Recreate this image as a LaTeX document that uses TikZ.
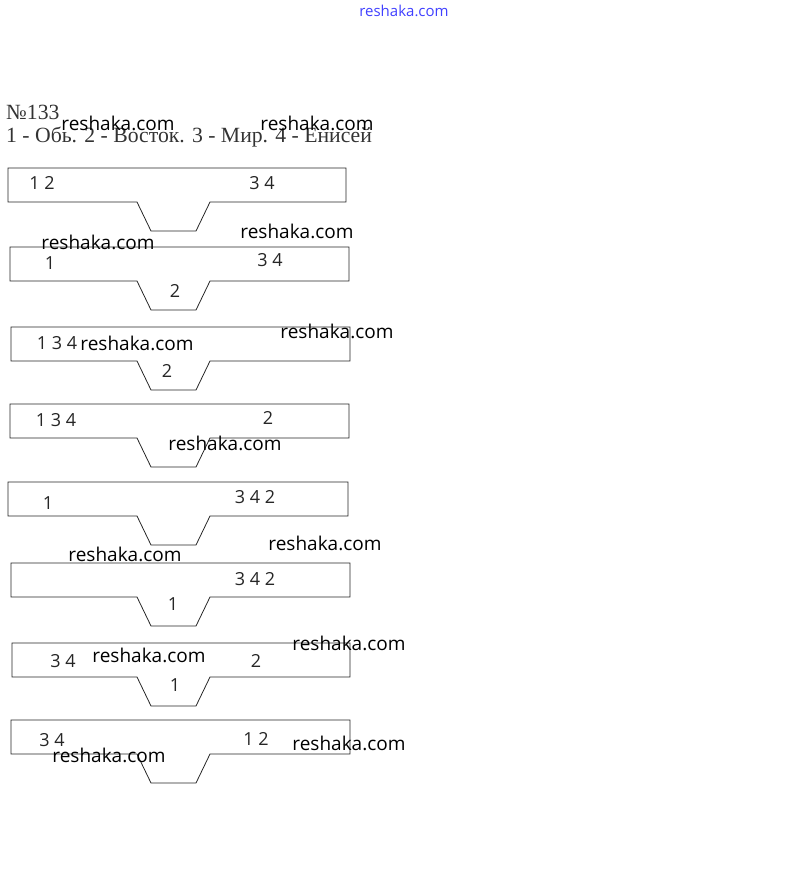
\documentclass[tikz,border=0pt]{standalone}
\usepackage{fontspec}
\setmainfont{Liberation Serif}
\newfontfamily\labelfont{Open Sans}
\tikzset{
  track/.style = {draw=black!85, line width=0.8pt},
  num/.style = {font=\labelfont\fontsize{18}{18}\selectfont, inner sep=0pt, text=black!85},
  wmark/.style = {font=\labelfont\fontsize{19}{19}\selectfont, inner sep=0pt},
  title/.style = {font=\fontsize{21.7}{21.7}\selectfont, inner sep=0pt, anchor=west, text=black!80}
}

\begin{document}
\begin{tikzpicture}[x=1pt,y=-1pt]
  \useasboundingbox (0,0) rectangle (806,895);
  % header
  \node[font=\labelfont\fontsize{15}{15}\selectfont, text=blue!75, inner sep=0pt] (site) at (404,11) {reshaka.com};
  \node[title] (task) at (6,112) {№133};
  \node[title] (legend) at (6,137) {1 - Обь. 2 - Восток. 3 - Мир. 4 - Енисей};
  % tracks with the dead-end notch
  \foreach \n/\xl/\xr/\yt in {1/8/346/168, 2/10/349/247, 3/11/350/327, 4/10/349/404,
                              5/8/348/482, 6/11/350/563, 7/12/350/643, 8/11/350/720}{
    \pgfmathsetmacro{\yb}{\yt+34}
    \pgfmathsetmacro{\yn}{\yt+63}
    \draw[track] (137,\yb) -- (\xl,\yb) -- (\xl,\yt) -- (\xr,\yt) -- (\xr,\yb)
      -- (210,\yb) -- (196,\yn) -- (151,\yn) -- cycle;
  }
  % wagons
  \node[num] (a1) at (42,183) {1 2};
  \node[num] (b1) at (262,183) {3 4};
  \node[num] (a2) at (50,263) {1};
  \node[num] (b2) at (270,260) {3 4};
  \node[num] (c2) at (175,291) {2};
  \node[num] (a3) at (57,343) {1 3 4};
  \node[num] (c3) at (167,371) {2};
  \node[num] (a4) at (56,420) {1 3 4};
  \node[num] (b4) at (268,418) {2};
  \node[num] (a5) at (48,503) {1};
  \node[num] (b5) at (255,497) {3 4 2};
  \node[num] (b6) at (255,579) {3 4 2};
  \node[num] (c6) at (173,604) {1};
  \node[num] (a7) at (63,661) {3 4};
  \node[num] (b7) at (256,661) {2};
  \node[num] (c7) at (175,685) {1};
  \node[num] (a8) at (52,740) {3 4};
  \node[num] (b8) at (256,739) {1 2};
  % watermarks
  \node[wmark] (w1) at (118,123) {reshaka.com};
  \node[wmark] (w2) at (317,123) {reshaka.com};
  \node[wmark] (w3) at (98,242) {reshaka.com};
  \node[wmark] (w4) at (297,231) {reshaka.com};
  \node[wmark] (w5) at (137,343) {reshaka.com};
  \node[wmark] (w6) at (337,331) {reshaka.com};
  \node[wmark] (w7) at (225,443) {reshaka.com};
  \node[wmark] (w8) at (125,554) {reshaka.com};
  \node[wmark] (w9) at (325,543) {reshaka.com};
  \node[wmark] (w10) at (149,655) {reshaka.com};
  \node[wmark] (w11) at (349,643) {reshaka.com};
  \node[wmark] (w12) at (109,755) {reshaka.com};
  \node[wmark] (w13) at (349,743) {reshaka.com};
\end{tikzpicture}
\end{document}
